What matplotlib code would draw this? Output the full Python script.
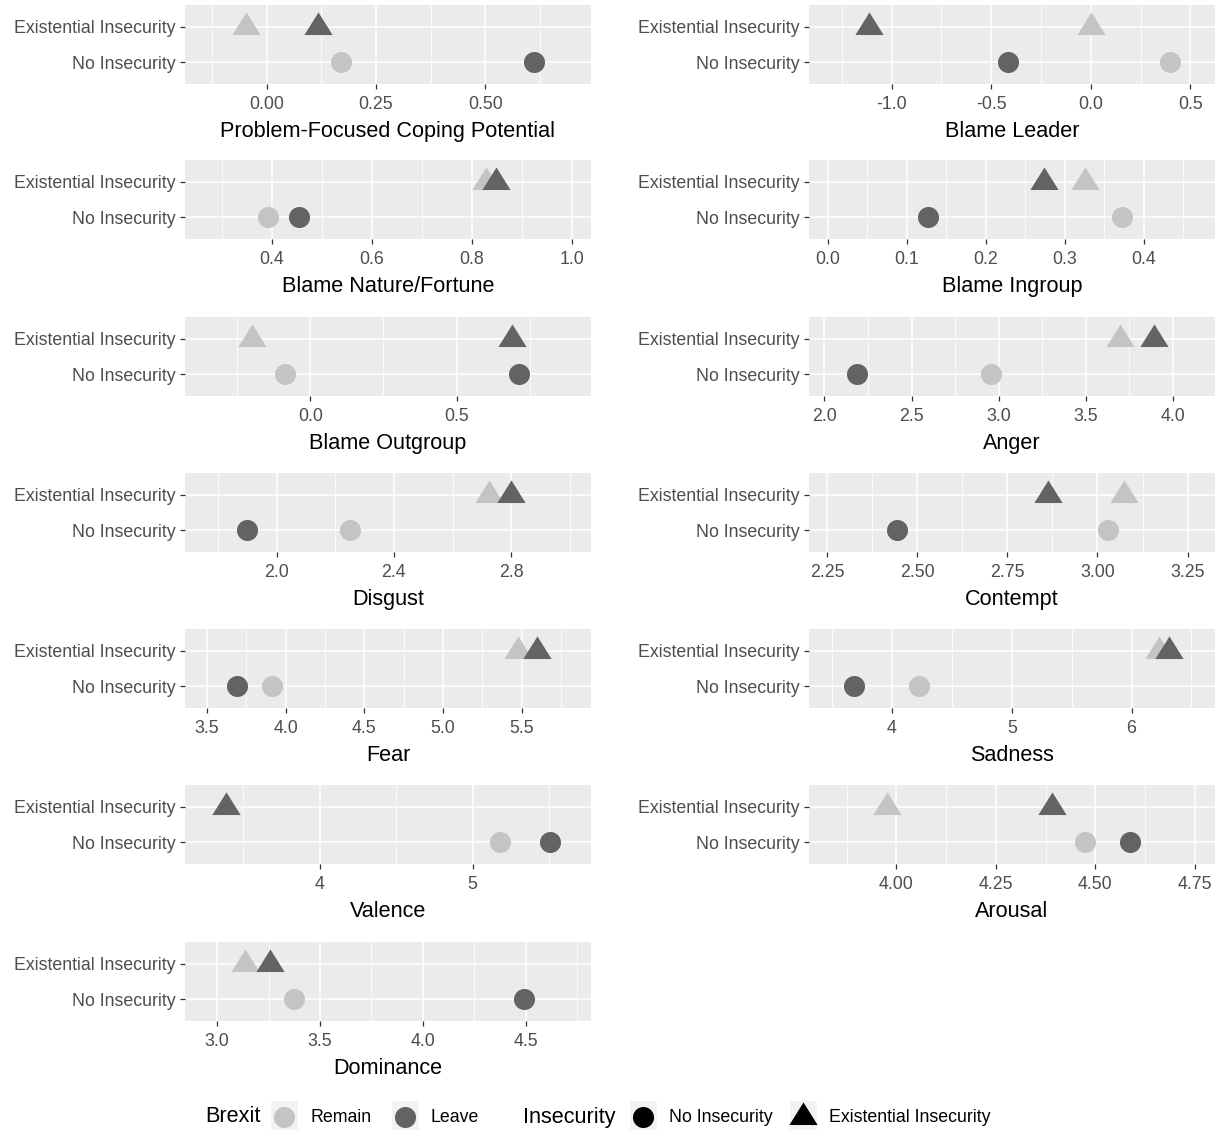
import matplotlib
matplotlib.use('Agg')
import matplotlib.pyplot as plt
import numpy as np
from matplotlib.path import Path

plt.rcParams['font.family'] = ['Liberation Sans', 'DejaVu Sans']

# ---- data ----
measures = ['Problem-Focused Coping Potential', 'Blame Leader', 'Blame Nature/Fortune',
            'Blame Ingroup', 'Blame Outgroup', 'Anger', 'Disgust', 'Contempt',
            'Fear', 'Sadness', 'Valence', 'Arousal', 'Dominance']
categories = ['No Insecurity', 'Existential Insecurity']

remain_none = [0.169, 0.397, 0.393, 0.372, -0.087, 2.959, 2.250, 3.029, 3.912, 4.226, 5.177, 4.474, 3.375]
leave_none = [0.612, -0.417, 0.454, 0.127, 0.715, 2.188, 1.898, 2.444, 3.689, 3.685, 5.510, 4.587, 4.490]
remain_exist = [-0.047, 0.000, 0.828, 0.326, -0.199, 3.697, 2.724, 3.074, 5.479, 6.233, 3.384, 3.977, 3.136]
leave_exist = [0.117, -1.112, 0.849, 0.274, 0.689, 3.895, 2.798, 2.862, 5.597, 6.316, 3.384, 4.390, 3.258]

x_limits = [(-0.187, 0.742), (-1.415, 0.624), (0.226, 1.039), (-0.024, 0.490), (-0.429, 0.960),
            (1.911, 4.244), (1.688, 3.072), (2.200, 3.326), (3.360, 5.941), (3.307, 6.697),
            (3.119, 5.775), (3.780, 4.801), (2.844, 4.817)]
x_ticks = [[0.0, 0.25, 0.5], [-1.0, -0.5, 0.0, 0.5], [0.4, 0.6, 0.8, 1.0], [0.0, 0.1, 0.2, 0.3, 0.4],
           [0.0, 0.5], [2.0, 2.5, 3.0, 3.5, 4.0], [2.0, 2.4, 2.8], [2.25, 2.5, 2.75, 3.0, 3.25],
           [3.5, 4.0, 4.5, 5.0, 5.5], [4, 5, 6], [4, 5], [4.0, 4.25, 4.5, 4.75], [3.0, 3.5, 4.0, 4.5]]
tick_labels = [['0.00', '0.25', '0.50'], ['-1.0', '-0.5', '0.0', '0.5'], ['0.4', '0.6', '0.8', '1.0'],
               ['0.0', '0.1', '0.2', '0.3', '0.4'], ['0.0', '0.5'], ['2.0', '2.5', '3.0', '3.5', '4.0'],
               ['2.0', '2.4', '2.8'], ['2.25', '2.50', '2.75', '3.00', '3.25'],
               ['3.5', '4.0', '4.5', '5.0', '5.5'], ['4', '5', '6'], ['4', '5'],
               ['4.00', '4.25', '4.50', '4.75'], ['3.0', '3.5', '4.0', '4.5']]

REMAIN = '#C4C4C4'
LEAVE = '#636363'
tri = Path([(0, 4 / 3), (-1.25, -2 / 3), (1.25, -2 / 3), (0, 4 / 3)],
           [Path.MOVETO, Path.LINETO, Path.LINETO, Path.CLOSEPOLY])
S_CIRC = 230
S_TRI = 470

W, H = 1229, 1130
fig = plt.figure(figsize=(W / 100, H / 100), dpi=100)

col_left = [185, 809]
panel_w = 406
row_top = [5, 160, 317, 473, 629, 785, 942]
panel_h = 79

for i, name in enumerate(measures):
    r, c = divmod(i, 2)
    x0 = col_left[c]
    y0 = row_top[r]
    ax = fig.add_axes([x0 / W, 1 - (y0 + panel_h) / H, panel_w / W, panel_h / H])
    ax.set_facecolor('#EBEBEB')
    lo, hi = x_limits[i]
    ticks = x_ticks[i]
    step = ticks[1] - ticks[0]
    minors = [t - step / 2 for t in ticks] + [ticks[-1] + step / 2]
    for m in minors:
        if lo < m < hi:
            ax.axvline(m, color='white', lw=0.55, zorder=0)
    for t in ticks:
        ax.axvline(t, color='white', lw=1.1, zorder=0)
    for yv in [1, 2]:
        ax.axhline(yv, color='white', lw=1.1, zorder=0)

    ax.scatter([remain_none[i]], [1], s=S_CIRC, marker='o', color=REMAIN, lw=0, zorder=2)
    ax.scatter([leave_none[i]], [1], s=S_CIRC, marker='o', color=LEAVE, lw=0, zorder=3)
    ax.scatter([remain_exist[i]], [2], s=S_TRI, marker=tri, color=REMAIN, lw=0, zorder=2)
    ax.scatter([leave_exist[i]], [2], s=S_TRI, marker=tri, color=LEAVE, lw=0, zorder=3)

    ax.set_xlim(lo, hi)
    ax.set_ylim(0.4, 2.6)
    ax.set_xticks(ticks)
    ax.set_xticklabels(tick_labels[i])
    ax.set_yticks([1, 2])
    ax.set_yticklabels(categories)
    ax.tick_params(length=3.5, width=0.9, color='#333333', labelcolor='#4D4D4D',
                   labelsize=12.8)
    ax.tick_params(axis='x', pad=5)
    ax.tick_params(axis='y', pad=3)
    for sp in ax.spines.values():
        sp.set_visible(False)
    ax.set_xlabel(name, fontsize=15.6, color='black', labelpad=6)

# ---- legend ----
lg = fig.add_axes([0, 0, 1, 1])
lg.set_xlim(0, W)
lg.set_ylim(H, 0)
lg.axis('off')
ly = 1117
lg.text(205, ly, 'Brexit', fontsize=15.6, va='center', ha='left')
lg.text(523, ly, 'Insecurity', fontsize=15.6, va='center', ha='left')
keys = [(284, 'o', REMAIN, 'Remain', S_CIRC), (405, 'o', LEAVE, 'Leave', S_CIRC),
        (643, 'o', 'black', 'No Insecurity', S_CIRC), (803, tri, 'black', 'Existential Insecurity', S_TRI)]
for kx, mk, col, lab, sz in keys:
    lg.add_patch(plt.Rectangle((kx - 14, ly - 17), 28, 34, facecolor='#F2F2F2', edgecolor='white', lw=1))
    lg.scatter([kx], [ly], s=sz, marker=mk, color=col, lw=0, zorder=3)
    lg.text(kx + 26, ly, lab, fontsize=12.8, va='center', ha='left')

fig.savefig('out.png', dpi=100)
